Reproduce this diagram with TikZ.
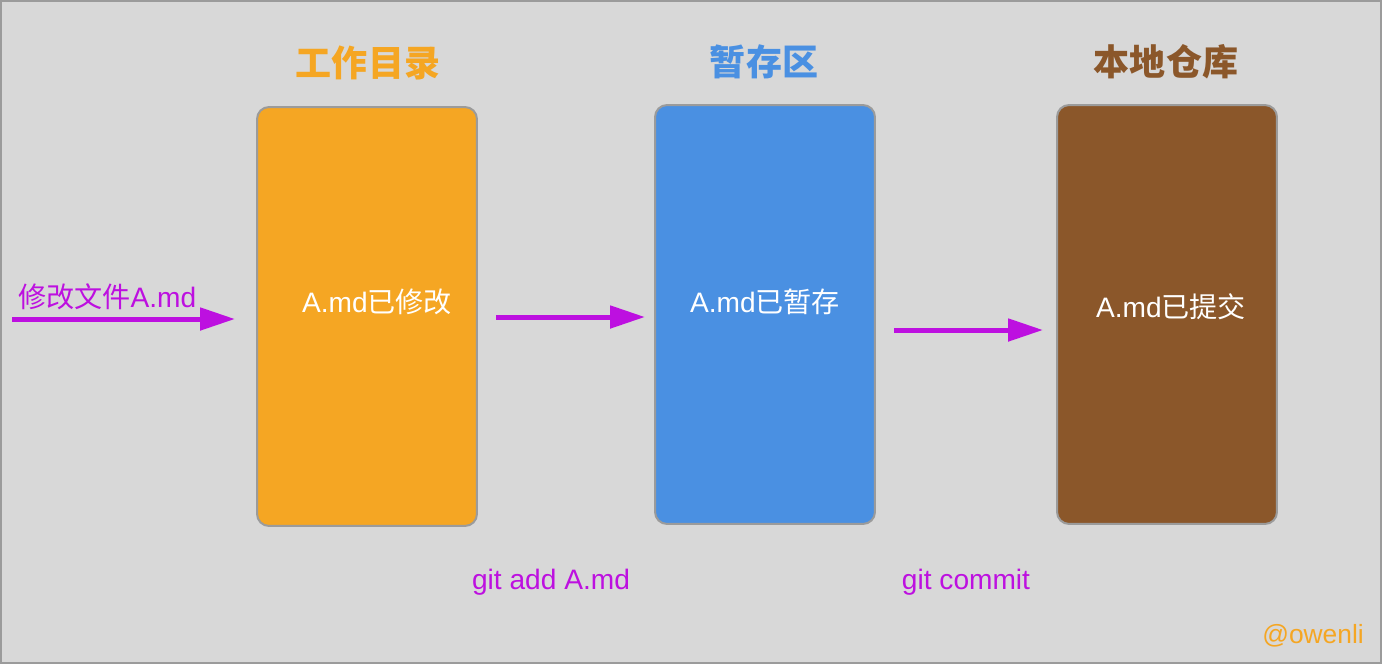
\documentclass[tikz,border=0pt]{standalone}
\usepackage{fontspec}
\setmainfont{Liberation Sans}
\newfontfamily\cjk{Noto Sans CJK SC}
\usepackage{tikz}
\usetikzlibrary{arrows.meta,positioning,calc}
\usepackage{xcolor}

\definecolor{bgGray}{HTML}{D8D8D8}
\definecolor{edgeGray}{HTML}{9B9B9B}
\definecolor{workOrange}{HTML}{F5A623}
\definecolor{stageBlue}{HTML}{4A90E2}
\definecolor{repoBrown}{HTML}{8B572A}
\definecolor{gitPurple}{HTML}{BD10E0}

\begin{document}
\begin{tikzpicture}[
    x=0.02cm, y=-0.02cm,
    area/.style={
        draw=edgeGray,
        line width=0.04cm,
        rounded corners=0.24cm,
        minimum width=4.4cm,
        minimum height=8.38cm,
        inner sep=0pt
    },
    title/.style={
        font=\fontsize{20.5}{24}\selectfont\cjk\bfseries
    },
    state/.style={
        text=white,
        font=\fontsize{16}{19}\selectfont
    },
    cmd/.style={
        text=gitPurple,
        font=\fontsize{16}{19}\selectfont
    },
    flow/.style={
        draw=gitPurple,
        line width=0.1cm,
        -{Triangle[length=0.7cm,width=0.44cm]}
    }
]

% ---------------- Background ----------------
\fill[bgGray] (0,0) rectangle (1382,664);
\draw[edgeGray, line width=0.04cm] (1,1) rectangle (1381,663);
\useasboundingbox (0,0) rectangle (1382,664);

% ---------------- Areas ----------------
\node[area, fill=workOrange] (work) at (367,316.5) {};
\node[area, fill=stageBlue]  (stage) at (765,314.5) {};
\node[area, fill=repoBrown]  (repo) at (1167,314.5) {};

\node[title, text=workOrange] (workTitle)  at (368,63) {工作目录};
\node[title, text=stageBlue]  (stageTitle) at (764,62) {暂存区};
\node[title, text=repoBrown]  (repoTitle)  at (1166,62) {本地仓库};

\node[state] (workState)  at (377,302) {A.md{\cjk 已修改}};
\node[state] (stageState) at (765,302) {A.md{\cjk 已暂存}};
\node[state] (repoState)  at (1171,307) {A.md{\cjk 已提交}};

% ---------------- Transitions ----------------
\coordinate (editStart) at (12,319);
\coordinate (editEnd)   at (235,319);
\coordinate (addStart)  at (496,317);
\coordinate (addEnd)    at (645,317);
\coordinate (commitStart) at (894,330);
\coordinate (commitEnd)   at (1043,330);

\draw[flow] (editStart) -- (editEnd);
\draw[flow] (addStart) -- (addEnd);
\draw[flow] (commitStart) -- (commitEnd);

\node[cmd, anchor=west] (editLabel) at (12,297) {{\cjk 修改文件}A.md};
\node[cmd] (addLabel)    at (551,582) {git add A.md};
\node[cmd] (commitLabel) at (966,582) {git commit};

% ---------------- Signature ----------------
\node[text=workOrange, font=\fontsize{15}{18}\selectfont]
    (sign) at (1313,636) {@owenli};

\end{tikzpicture}
\end{document}
